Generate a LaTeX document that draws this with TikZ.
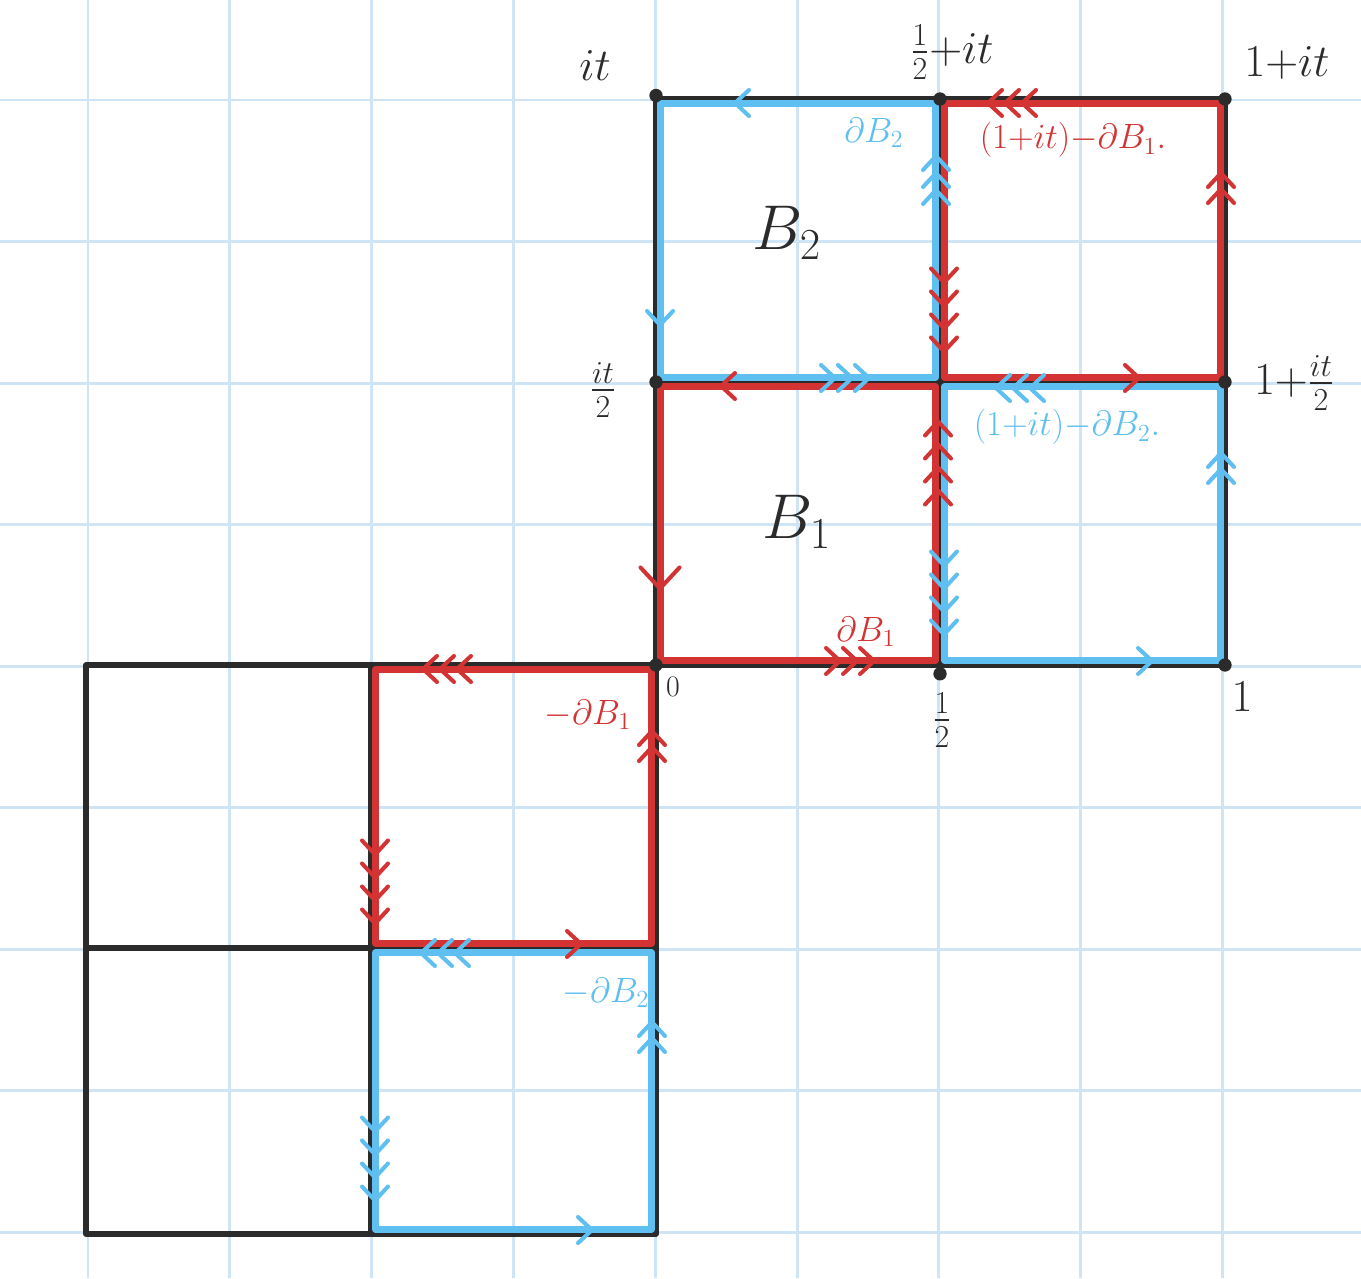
\RequirePackage{fix-cm}
\documentclass[tikz,border=0pt]{standalone}
\usepackage{amsmath}
\definecolor{gridc}{HTML}{CFE5F6}
\definecolor{myred}{HTML}{D33333}
\definecolor{myblue}{HTML}{5EBFF0}
\definecolor{ink}{HTML}{2B2B2B}
\def\chevgap{17}
\tikzset{
  chevgap/.store in=\chevgap,
  gridline/.style={gridc, line width=1.7pt},
  blackline/.style={ink, line width=3.1pt, line cap=round, line join=round},
  redsq/.style={myred, line width=3.6pt, line join=round},
  bluesq/.style={myblue, line width=3.6pt, line join=round},
  vertexdot/.style={circle, fill=ink, inner sep=0pt, minimum size=7.6pt},
  lbl/.style={ink, inner sep=0pt, font=\fontsize{26}{30}\selectfont},
  smalllbl/.style={ink, inner sep=0pt, font=\fontsize{17}{20}\selectfont},
  biglbl/.style={ink, inner sep=0pt, font=\fontsize{36}{40}\selectfont},
  clbl/.style={inner sep=0pt, font=\fontsize{20}{24}\selectfont},
  pics/chevs/.style={code={
    \foreach \k in {1,...,#1}{
      \pgfmathsetmacro\off{(\k-(#1+1)/2)*\chevgap}
      \draw[line width=2.3pt, line cap=round, line join=round]
        ({\off-7},-13) -- ({\off+7},0) -- ({\off-7},13);
    }
  }}
}
\begin{document}
\begin{tikzpicture}[x=0.02cm, y=-0.02cm]
\useasboundingbox[fill=white] (0,0) rectangle (1361,1278);

% graph paper
\foreach \k in {0,...,9}
  \draw[gridline] ({88+141.8*\k},0) -- ({88+141.8*\k},1278);
\foreach \k in {0,...,8}
  \draw[gridline] (0,{100+141.5*\k}) -- (1361,{100+141.5*\k});

% corner coordinates
\coordinate (A) at (656,99);
\coordinate (Bc) at (940,99);
\coordinate (C) at (1225,99);
\coordinate (D) at (656,382);
\coordinate (E) at (940,382);
\coordinate (F) at (1225,382);
\coordinate (O) at (656,665);
\coordinate (H) at (940,665);
\coordinate (I) at (1225,665);
\coordinate (M1) at (371,665);
\coordinate (M2) at (86,665);
\coordinate (M3) at (86,948);
\coordinate (M4) at (371,948);
\coordinate (M5) at (656,948);
\coordinate (M6) at (86,1234);
\coordinate (M7) at (371,1234);
\coordinate (M8) at (656,1234);

% black outlines
\draw[blackline] (A) rectangle (I);
\draw[blackline] (Bc) -- (H);
\draw[blackline] (D) -- (F);
\draw[blackline] (M2) rectangle (M8);
\draw[blackline] (M1) -- (M7);
\draw[blackline] (M3) -- (M5);

% coloured boundaries
\draw[bluesq] ([shift={(4.5,4.5)}]A) rectangle ([shift={(-4.5,-4.5)}]E);
\draw[redsq]  ([shift={(4.5,4.5)}]Bc) rectangle ([shift={(-4.5,-4.5)}]F);
\draw[redsq]  ([shift={(4.5,4.5)}]D) rectangle ([shift={(-4.5,-4.5)}]H);
\draw[bluesq] ([shift={(4.5,4.5)}]E) rectangle ([shift={(-4.5,-4.5)}]I);
\draw[redsq]  ([shift={(4.5,4.5)}]M1) rectangle ([shift={(-4.5,-4.5)}]M5);
\draw[bluesq] ([shift={(4.5,4.5)}]M4) rectangle ([shift={(-4.5,-4.5)}]M8);

% arrows: dB2 (blue)
\pic[myblue, rotate=180] at (742,103) {chevs=1};
\pic[myblue, rotate=-90] at (660,318) {chevs=1};
\pic[myblue] at (845,378) {chevs=3};
\pic[myblue, rotate=90] at (936,180) {chevs=3};
% (1+it)-dB1 (red)
\pic[myred, rotate=180] at (1012,103) {chevs=3};
\pic[myred, rotate=90, chevgap=16] at (1221,188) {chevs=2};
\pic[myred] at (1132,378) {chevs=1};
\pic[myred, rotate=-90, chevgap=23] at (944,310) {chevs=4};
% dB1 (red)
\pic[myred, rotate=180] at (728,386) {chevs=1};
\pic[myred, rotate=-90, scale=1.5] at (660,578) {chevs=1};
\pic[myred] at (850,661) {chevs=3};
\pic[myred, rotate=90, chevgap=23] at (938,463) {chevs=4};
% (1+it)-dB2 (blue)
\pic[myblue, rotate=180] at (1020,388) {chevs=3};
\pic[myblue, rotate=90, chevgap=16] at (1221,468) {chevs=2};
\pic[myblue] at (1145,661) {chevs=1};
\pic[myblue, rotate=-90, chevgap=23] at (944,593) {chevs=4};
% -dB1 (red)
\pic[myred, rotate=180] at (447,669) {chevs=3};
\pic[myred, rotate=90, chevgap=16] at (652,746) {chevs=2};
\pic[myred] at (574,944) {chevs=1};
\pic[myred, rotate=-90, chevgap=23] at (375,882) {chevs=4};
% -dB2 (blue)
\pic[myblue, rotate=180] at (445,953) {chevs=3};
\pic[myblue, rotate=90, chevgap=16] at (652,1037) {chevs=2};
\pic[myblue] at (585,1230) {chevs=1};
\pic[myblue, rotate=-90, chevgap=23] at (375,1159) {chevs=4};

% vertices
\node[vertexdot] (dA) at ([yshift=2]A) {};
\node[vertexdot] (dB) at (Bc) {};
\node[vertexdot] (dC) at (C) {};
\node[vertexdot] (dD) at (D) {};
\node[vertexdot] (dF) at (F) {};
\node[vertexdot] (dO) at (O) {};
\node[vertexdot] (dH) at ([yshift=-5]H) {};
\node[vertexdot] (dI) at (I) {};

% labels
\node[lbl] (Lit) at (595,66) {$it$};
\node[lbl] (Lhit) at (952,52) {$\frac{1}{2}{+}it$};
\node[lbl] (L1it) at (1287,63) {$1{+}it$};
\node[lbl] (Lit2) at (603,390) {$\frac{it}{2}$};
\node[lbl] (L1it2) at (1294,383) {$1{+}\frac{it}{2}$};
\node[smalllbl] (L0) at (673,687) {$0$};
\node[lbl] (Lhalf) at (942,720) {$\frac{1}{2}$};
\node[lbl] (L1) at (1242,697) {$1$};
\node[biglbl] (LB2) at (787,233) {$B_2$};
\node[biglbl] (LB1) at (797,522) {$B_1$};
\node[clbl, myblue] (LdB2) at (874,133) {$\partial B_2$};
\node[clbl, myred] (LtB1) at (1073,140) {$(1{+}it){-}\partial B_1.$};
\node[clbl, myblue] (LtB2) at (1067,427) {$(1{+}it){-}\partial B_2.$};
\node[clbl, myred] (LdB1) at (866,632) {$\partial B_1$};
\node[clbl, myred] (LmB1) at (588,715) {${-}\partial B_1$};
\node[clbl, myblue] (LmB2) at (606,993) {${-}\partial B_2$};
\end{tikzpicture}
\end{document}
